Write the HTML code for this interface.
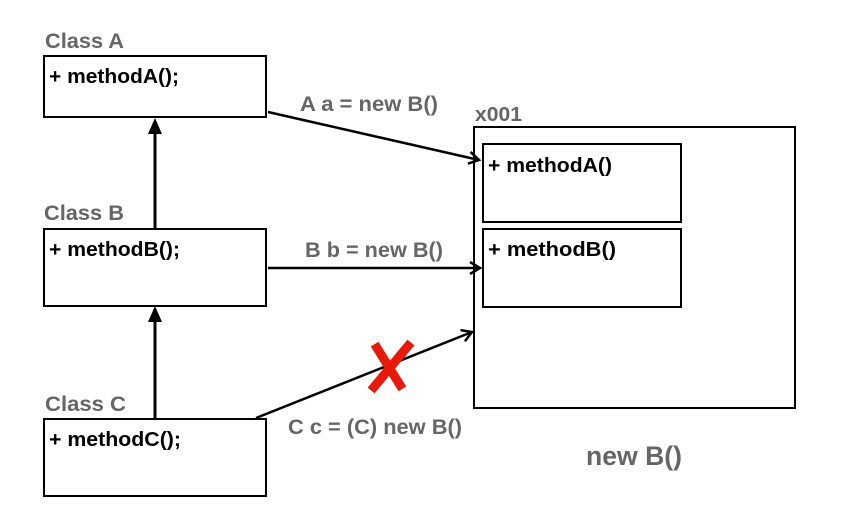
<!DOCTYPE html>
<html><head><meta charset="utf-8"><style>body{margin:0;background:#fff}svg{display:block}</style></head><body>
<svg width="863" height="507" viewBox="0 0 863 507" xmlns="http://www.w3.org/2000/svg" font-family="Liberation Sans, Arial, sans-serif" font-weight="bold">
<defs>
<marker id="open" markerWidth="14" markerHeight="14" refX="11" refY="7" orient="auto" markerUnits="userSpaceOnUse"><path d="M1,1 L11,7 L1,13" fill="none" stroke="#000" stroke-width="2.5"/></marker>
</defs>
<g fill="#666" font-size="21">
<text x="45" y="48" textLength="79" lengthAdjust="spacingAndGlyphs">Class A</text>
<text x="44" y="220" textLength="80" lengthAdjust="spacingAndGlyphs">Class B</text>
<text x="45" y="411" textLength="81" lengthAdjust="spacingAndGlyphs">Class C</text>
<text x="475" y="121" font-size="20" textLength="47" lengthAdjust="spacingAndGlyphs">x001</text>
<text x="300" y="111" font-size="21" textLength="138" lengthAdjust="spacingAndGlyphs">A a = new B()</text>
<text x="305" y="257" font-size="21" textLength="138" lengthAdjust="spacingAndGlyphs">B b = new B()</text>
<text x="288" y="434" font-size="21" textLength="174" lengthAdjust="spacingAndGlyphs">C c = (C) new B()</text>
<text x="729" y="192" font-size="19">A</text>
<text x="729" y="276" font-size="19">B</text>
<text x="586" y="465" font-size="27" textLength="96" lengthAdjust="spacingAndGlyphs">new B()</text>
</g>
<g fill="#fff" stroke="#000" stroke-width="2">
<rect x="44" y="56" width="222" height="61"/>
<rect x="44" y="229" width="222" height="77"/>
<rect x="44" y="419" width="222" height="77"/>
<rect x="474" y="127" width="321" height="281"/>
<rect x="483" y="144" width="198" height="78"/>
<rect x="483" y="229" width="198" height="78"/>
</g>
<g fill="#000" font-size="20">
<text x="49" y="83" textLength="130" lengthAdjust="spacingAndGlyphs">+ methodA();</text>
<text x="49" y="256" textLength="131" lengthAdjust="spacingAndGlyphs">+ methodB();</text>
<text x="49" y="446" textLength="132" lengthAdjust="spacingAndGlyphs">+ methodC();</text>
<text x="488" y="172" textLength="124" lengthAdjust="spacingAndGlyphs">+ methodA()</text>
<text x="488" y="256" textLength="128" lengthAdjust="spacingAndGlyphs">+ methodB()</text>
</g>
<g stroke="#000" stroke-width="3">
<line x1="155" y1="229" x2="155" y2="132"/>
<line x1="155" y1="419" x2="155" y2="320"/>
</g>
<path d="M148,134 L155,118 L162,134 Z" fill="#000"/>
<path d="M148,322 L155,306 L162,322 Z" fill="#000"/>
<g stroke="#000" stroke-width="2.5" fill="none" marker-end="url(#open)">
<line x1="268" y1="112" x2="479" y2="160"/>
<line x1="268" y1="268" x2="480" y2="268"/>
<line x1="256" y1="418" x2="472" y2="332"/>
</g>
<g stroke="#e8190a" stroke-width="9" stroke-linecap="square">
<line x1="377" y1="348" x2="400" y2="385"/>
<line x1="408" y1="346" x2="374" y2="387"/>
</g>
</svg>
</body></html>
